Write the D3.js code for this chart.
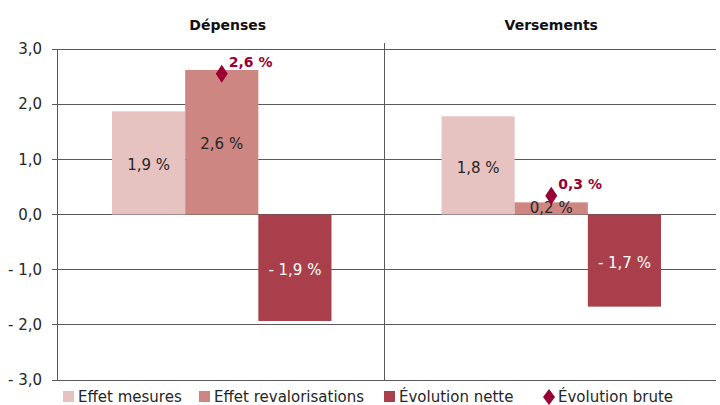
<!DOCTYPE html>
<html><head><meta charset="utf-8">
<script src="https://cdn.jsdelivr.net/npm/d3@7"></script>
<style>body{margin:0;background:#fff}svg{display:block}text{font-family:"DejaVu Sans",sans-serif}</style>
</head><body><svg id="c" width="720" height="405"></svg>
<script>
const panels = ["Dépenses", "Versements"];
const seriesNames = ["Effet mesures", "Effet revalorisations", "Évolution nette"];
const mesures = [1.87, 1.78];
const revalorisations = [2.62, 0.22];
const nette = [-1.93, -1.67];
const brute = [2.55, 0.34];
const barLabels = [["1,9 %", "2,6 %", "- 1,9 %"], ["1,8 %", "0,2 %", "- 1,7 %"]];
const bruteLabels = ["2,6 %", "0,3 %"];
const brutName = "Évolution brute";
const yTicks = [3, 2, 1, 0, -1, -2, -3];
const colors = ["#E6C3C0", "#CD8682", "#A93F4A"];
const diamondColor = "#990033";

const svg = d3.select("#c");
const pLeft = 57, pRight = 716, pTop = 49, pBottom = 380;
const y = d3.scaleLinear().domain([-3, 3]).range([pBottom, pTop]);
const px = d3.scaleBand().domain(panels).range([pLeft, pRight]).padding(0);
const fmtTick = v => (v < 0 ? "- " + d3.format(".1f")(-v) : d3.format(".1f")(v)).replace(".", ",");

// gridlines
svg.append("g").selectAll("line").data(yTicks).join("line")
  .attr("x1", pLeft - 5).attr("x2", pRight).attr("y1", d => y(d)).attr("y2", d => y(d))
  .attr("stroke", "#595959").attr("stroke-width", 1).attr("shape-rendering", "crispEdges");
// y axis line
svg.append("line").attr("x1", pLeft).attr("x2", pLeft).attr("y1", pTop).attr("y2", pBottom)
  .attr("stroke", "#595959").attr("shape-rendering", "crispEdges");
// divider
const divX = px(panels[1]) - 2.5;
svg.append("line").attr("x1", divX).attr("x2", divX).attr("y1", 43).attr("y2", pBottom)
  .attr("stroke", "#595959").attr("shape-rendering", "crispEdges");
// tick labels
svg.append("g").selectAll("text").data(yTicks).join("text")
  .attr("x", 42).attr("y", d => y(d)).attr("dy", "0.35em").attr("text-anchor", "end")
  .attr("font-size", 15).attr("fill", "#262626").text(fmtTick);

const values = [mesures, revalorisations, nette];
panels.forEach((p, i) => {
  const x0 = px(p), w = px.bandwidth();
  const inner = d3.scaleBand().domain(seriesNames).range([x0 + 55, x0 + w - 55]).padding(0);
  const g = svg.append("g");
  g.append("text").attr("x", x0 + w / 2 + (i === 0 ? 6 : 0)).attr("y", 30).attr("text-anchor", "middle")
    .attr("font-size", 14).attr("font-weight", "bold").attr("fill", "#111").text(p);
  seriesNames.forEach((s, k) => {
    const v = values[k][i];
    g.append("rect").attr("x", inner(s)).attr("width", inner.bandwidth())
      .attr("y", y(Math.max(0, v))).attr("height", Math.abs(y(v) - y(0)))
      .attr("fill", colors[k]);
    g.append("text").attr("x", inner(s) + inner.bandwidth() / 2).attr("y", (y(v) + y(0)) / 2 + (k===1&&i===1?-1:2))
      .attr("dy", "0.35em").attr("text-anchor", "middle").attr("font-size", 15)
      .attr("fill", k === 2 ? "#fff" : "#262626").text(barLabels[i][k]);
  });
  const cx = inner(seriesNames[1]) + inner.bandwidth() / 2, cy = y(brute[i]);
  g.append("path").attr("d", `M${cx},${cy - 9}L${cx + 6},${cy}L${cx},${cy + 9}L${cx - 6},${cy}Z`).attr("fill", diamondColor);
  g.append("text").attr("x", cx + 7).attr("y", cy - 7).attr("font-size", 14).attr("font-weight", "bold")
    .attr("fill", diamondColor).text(bruteLabels[i]);
});

// legend
const leg = svg.append("g").attr("transform", "translate(0,397)");
const legX = [63, 199, 384];
seriesNames.forEach((s, k) => {
  leg.append("rect").attr("x", legX[k]).attr("y", -6).attr("width", 11).attr("height", 11).attr("fill", colors[k]);
  leg.append("text").attr("x", legX[k] + 15).attr("y", 0).attr("dy", "0.35em").attr("font-size", 15).attr("fill", "#262626").text(s);
});
const dx = 549;
leg.append("path").attr("d", `M${dx},-8L${dx + 6},0L${dx},8L${dx - 6},0Z`).attr("fill", diamondColor);
leg.append("text").attr("x", dx + 9).attr("y", 0).attr("dy", "0.35em").attr("font-size", 15).attr("fill", "#262626").text(brutName);
</script></body></html>
